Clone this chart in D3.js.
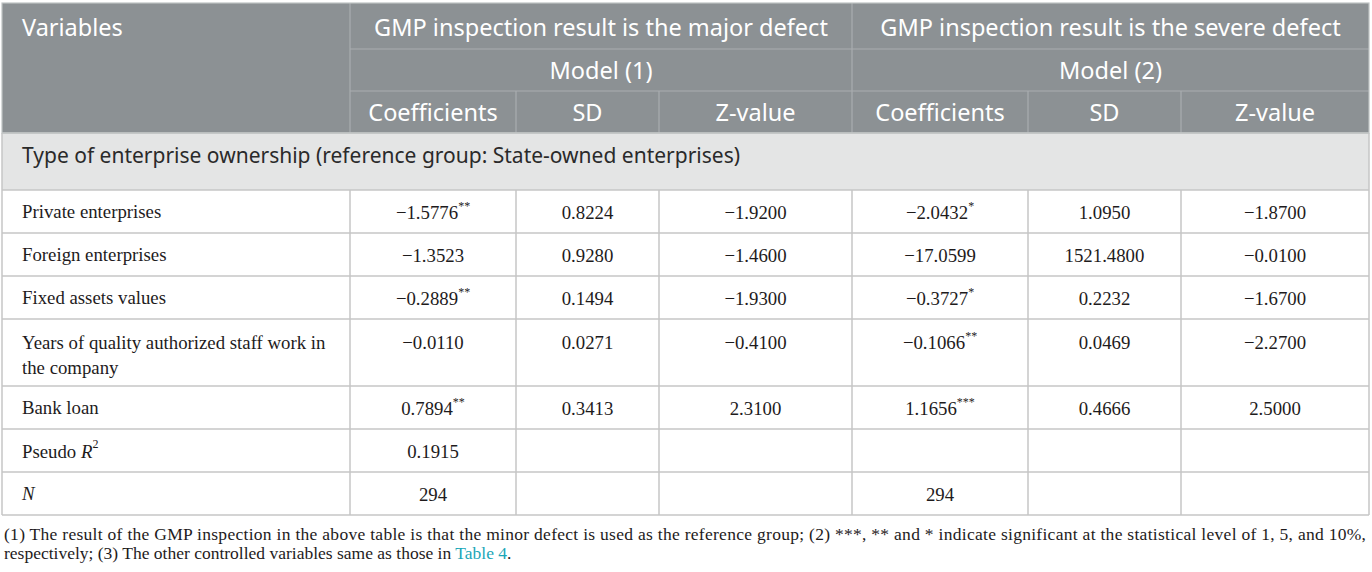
<!DOCTYPE html>
<html>
<head>
<meta charset="utf-8">
<script src="https://cdn.jsdelivr.net/npm/d3@7"></script>
<style>
  body { margin: 0; background: #fff; }
</style>
</head>
<body>
<div class="table-container"></div>
<script>
// table content
const groupTitles = ["GMP inspection result is the major defect", "GMP inspection result is the severe defect"];
const modelTitles = ["Model (1)", "Model (2)"];
const statHeaders = ["Coefficients", "SD", "Z-value"];
const sectionTitle = "Type of enterprise ownership (reference group: State-owned enterprises)";

const variables = ["Private enterprises", "Foreign enterprises", "Fixed assets values",
  "Years of quality authorized staff work in|the company", "Bank loan"];
const coef1 = [-1.5776, -1.3523, -0.2889, -0.0110, 0.7894];
const stars1 = ["**", "", "**", "", "**"];
const sd1 = [0.8224, 0.9280, 0.1494, 0.0271, 0.3413];
const z1 = [-1.92, -1.46, -1.93, -0.41, 2.31];
const coef2 = [-2.0432, -17.0599, -0.3727, -0.1066, 1.1656];
const stars2 = ["*", "", "*", "**", "***"];
const sd2 = [1.0950, 1521.48, 0.2232, 0.0469, 0.4666];
const z2 = [-1.87, -0.01, -1.67, -2.27, 2.50];

const pseudoR2 = [0.1915, null];
const nObs = [294, 294];

const footLine1 = "(1) The result of the GMP inspection in the above table is that the minor defect is used as the reference group; (2) ***, ** and * indicate significant at the statistical level of 1, 5, and 10%,";
const footLine2 = "respectively; (3) The other controlled variables same as those in ";
const footLink = "Table 4";

// layout
const width = 1372, height = 572;
const colEdges = [2, 350, 516, 659, 852, 1028, 1181, 1369];
const headerEdges = [3, 49, 91, 133];
const sectionBottom = 190;
const rowHeights = [43, 43, 43, 67, 43, 43, 43];

const fmt = d3.format(".4f");
const sans = "'Noto Sans', 'Open Sans', sans-serif";
const serif = "'Liberation Serif', 'Times New Roman', serif";
const headerFill = "#8c9194";
const headerLine = "#a9aeb0";
const bodyLine = "#c6c6c6";

const svg = d3.select('.table-container')
  .append('svg')
  .attr('width', width)
  .attr('height', height);

const colCenter = (i) => (colEdges[i] + colEdges[i + 1]) / 2;

// row boundaries of the body
const rowEdges = [sectionBottom];
rowHeights.forEach((h) => rowEdges.push(rowEdges[rowEdges.length - 1] + h));
const tableBottom = rowEdges[rowEdges.length - 1];

// header background
svg.append('rect')
  .attr('x', colEdges[0]).attr('y', headerEdges[0])
  .attr('width', colEdges[7] - colEdges[0])
  .attr('height', headerEdges[3] - headerEdges[0])
  .attr('fill', headerFill);

// section row background
svg.append('rect')
  .attr('x', colEdges[0]).attr('y', headerEdges[3])
  .attr('width', colEdges[7] - colEdges[0])
  .attr('height', sectionBottom - headerEdges[3])
  .attr('fill', '#e4e5e5');

const lines = svg.append('g').attr('fill', 'none');

// header grid
lines.selectAll('.hh')
  .data([headerEdges[1], headerEdges[2]])
  .join('line')
  .attr('x1', colEdges[1]).attr('x2', colEdges[7])
  .attr('y1', (d) => d).attr('y2', (d) => d)
  .attr('stroke', headerLine).attr('stroke-width', 1.2);

lines.selectAll('.hv')
  .data([[1, 0], [4, 0], [2, 2], [3, 2], [5, 2], [6, 2]])
  .join('line')
  .attr('x1', (d) => colEdges[d[0]]).attr('x2', (d) => colEdges[d[0]])
  .attr('y1', (d) => headerEdges[d[1]]).attr('y2', headerEdges[3])
  .attr('stroke', headerLine).attr('stroke-width', 1.2);

// body grid
lines.selectAll('.bh')
  .data([headerEdges[3], ...rowEdges])
  .join('line')
  .attr('x1', colEdges[0]).attr('x2', colEdges[7])
  .attr('y1', (d) => d).attr('y2', (d) => d)
  .attr('stroke', bodyLine).attr('stroke-width', 1.5);

lines.selectAll('.bv')
  .data(colEdges)
  .join('line')
  .attr('x1', (d) => d).attr('x2', (d) => d)
  .attr('y1', (d, i) => (i === 0 || i === 7) ? headerEdges[3] : sectionBottom)
  .attr('y2', tableBottom)
  .attr('stroke', bodyLine).attr('stroke-width', 1.5);

// outer frame of the header
lines.append('rect')
  .attr('x', colEdges[0]).attr('y', headerEdges[0])
  .attr('width', colEdges[7] - colEdges[0])
  .attr('height', headerEdges[3] - headerEdges[0])
  .attr('stroke', '#bfc3c4').attr('stroke-width', 1.2);

// header text
const head = svg.append('g')
  .attr('font-family', sans)
  .attr('font-size', 23.5)
  .attr('fill', '#fff')
  .attr('dominant-baseline', 'central');

head.append('text')
  .attr('x', 22).attr('y', (headerEdges[0] + headerEdges[1]) / 2 + 1)
  .text('Variables');

head.selectAll('.grp')
  .data(groupTitles)
  .join('text')
  .attr('text-anchor', 'middle')
  .attr('x', (d, i) => (colEdges[1 + 3 * i] + colEdges[4 + 3 * i]) / 2)
  .attr('y', (headerEdges[0] + headerEdges[1]) / 2 + 1)
  .text((d) => d);

head.selectAll('.mdl')
  .data(modelTitles)
  .join('text')
  .attr('text-anchor', 'middle')
  .attr('x', (d, i) => (colEdges[1 + 3 * i] + colEdges[4 + 3 * i]) / 2)
  .attr('y', (headerEdges[1] + headerEdges[2]) / 2)
  .text((d) => d);

head.selectAll('.stat')
  .data([...statHeaders, ...statHeaders])
  .join('text')
  .attr('text-anchor', 'middle')
  .attr('x', (d, i) => colCenter(i + 1))
  .attr('y', (headerEdges[2] + headerEdges[3]) / 2)
  .text((d) => d);

// section title
svg.append('text')
  .attr('x', 22).attr('y', 155)
  .attr('dominant-baseline', 'central')
  .attr('font-family', sans).attr('font-size', 21)
  .attr('fill', '#2a2a2a')
  .text(sectionTitle);

// body rows
const body = svg.append('g')
  .attr('font-family', serif)
  .attr('font-size', 18.8)
  .attr('fill', '#1e1b1c')
  .attr('dominant-baseline', 'central');

function addValue(x, y, value, stars) {
  const t = body.append('text')
    .attr('x', x).attr('y', y)
    .attr('text-anchor', 'middle');
  t.append('tspan').text(value);
  if (stars) {
    t.append('tspan')
      .attr('font-size', 12)
      .attr('dy', -6)
      .text(stars);
  }
}

variables.forEach((label, r) => {
  const top = rowEdges[r];
  const parts = label.split('|');
  const y = parts.length > 1 ? top + 23 : (top + rowEdges[r + 1]) / 2;
  parts.forEach((p, k) => {
    body.append('text')
      .attr('x', 22).attr('y', y + k * 25)
      .text(p);
  });
  const cols = [
    [fmt(coef1[r]), stars1[r]], [fmt(sd1[r]), ""], [fmt(z1[r]), ""],
    [fmt(coef2[r]), stars2[r]], [fmt(sd2[r]), ""], [fmt(z2[r]), ""]
  ];
  cols.forEach((c, i) => addValue(colCenter(i + 1), y, c[0], c[1]));
});

// Pseudo R2
const rR2 = variables.length;
const yR2 = (rowEdges[rR2] + rowEdges[rR2 + 1]) / 2;
const r2Label = body.append('text').attr('x', 22).attr('y', yR2);
r2Label.append('tspan').text('Pseudo ');
r2Label.append('tspan').attr('font-style', 'italic').text('R');
r2Label.append('tspan').attr('font-size', 12).attr('dy', -7).text('2');
pseudoR2.forEach((v, i) => {
  if (v !== null) addValue(colCenter(1 + 3 * i), yR2, fmt(v), "");
});

// N
const rN = variables.length + 1;
const yN = (rowEdges[rN] + rowEdges[rN + 1]) / 2;
body.append('text').attr('x', 22).attr('y', yN)
  .attr('font-style', 'italic').text('N');
nObs.forEach((v, i) => addValue(colCenter(1 + 3 * i), yN, String(v), ""));

// footnote
const foot = svg.append('g')
  .attr('font-family', serif)
  .attr('font-size', 17.5)
  .attr('fill', '#1e1b1c')
  .attr('dominant-baseline', 'central');

foot.append('text')
  .attr('x', 4).attr('y', tableBottom + 19)
  .attr('textLength', 1362)
  .attr('lengthAdjust', 'spacing')
  .text(footLine1);

const f2 = foot.append('text')
  .attr('x', 4).attr('y', tableBottom + 38);
f2.append('tspan').text(footLine2);
f2.append('tspan').attr('fill', '#1aa6b8').text(footLink);
f2.append('tspan').text('.');
</script>
</body>
</html>
